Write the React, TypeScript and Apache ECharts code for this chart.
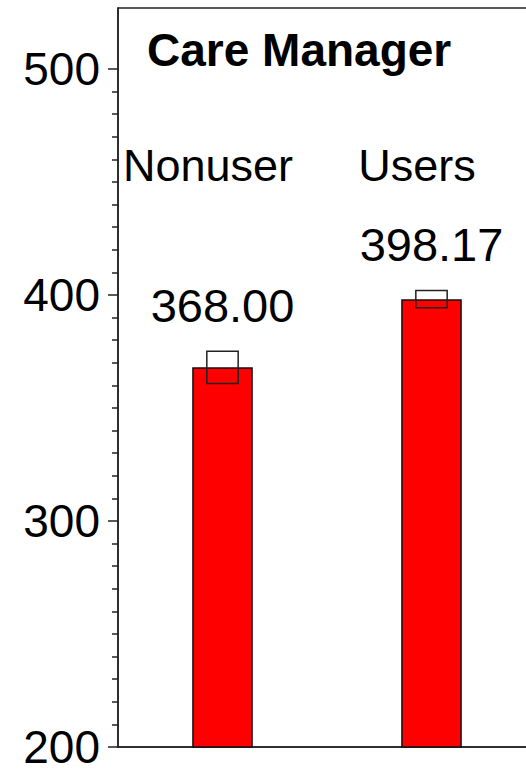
import React, { useEffect, useRef } from "react";
import * as echarts from "echarts";

const title = "Care Manager";
const categories = ["Nonuser", "Users"];
const means = [368.0, 398.17];
const ciLow = [360.9, 394.4];
const ciHigh = [375.1, 402.0];
const majorTicks = [200, 300, 400, 500];
const minorTicks = [
  210, 220, 230, 240, 250, 260, 270, 280, 290,
  310, 320, 330, 340, 350, 360, 370, 380, 390,
  410, 420, 430, 440, 450, 460, 470, 480, 490,
];
const yMin = 200;
const yMax = 527;

const FONT = "'Liberation Sans', Arial, Helvetica, sans-serif";

export default function App() {
  const ref = useRef<HTMLDivElement>(null);
  useEffect(() => {
    if (!ref.current) return;
    const chart = echarts.init(ref.current, null, { renderer: "svg" });
    const errData = categories.map((c, i) => [i, ciLow[i], ciHigh[i], means[i]]);
    chart.setOption({
      animation: false,
      backgroundColor: "#fff",
      title: {
        text: title,
        left: 147,
        top: 27,
        padding: 0,
        textStyle: { fontSize: 46, fontWeight: "bold", color: "#000", fontFamily: FONT },
      },
      grid: {
        left: 118,
        top: 8,
        right: 4,
        bottom: 23,
        show: true,
        borderColor: "#222",
        borderWidth: 1.5,
        containLabel: false,
      },
      xAxis: [
        {
          type: "category",
          data: categories,
          position: "bottom",
          axisLine: { show: true, lineStyle: { color: "#222", width: 1.5 } },
          axisTick: { show: false },
          axisLabel: { show: false },
          splitLine: { show: false },
        },
        {
          type: "category",
          data: categories,
          position: "top",
          offset: -188,
          axisLine: { show: false },
          axisTick: { show: false },
          axisLabel: {
            show: true,
            interval: 0,
            hideOverlap: false,
            fontSize: 45,
            color: "#000",
            fontFamily: FONT,
            margin: 8,
            padding: [0, 29, 0, 0],
          },
          splitLine: { show: false },
        },
      ],
      yAxis: [
        {
          type: "value",
          min: yMin,
          max: yMax,
          interval: 100,
          position: "left",
          axisLine: { show: true, lineStyle: { color: "#222", width: 1.5 } },
          axisTick: {
            show: true,
            length: 10,
            customValues: majorTicks,
            lineStyle: { color: "#222", width: 1.5 },
          },
          axisLabel: {
            show: true,
            customValues: majorTicks,
            fontSize: 46,
            lineHeight: 36,
            color: "#000",
            fontFamily: FONT,
            margin: 18,
          },
          splitLine: { show: false },
        },
        {
          type: "value",
          min: yMin,
          max: yMax,
          interval: 100,
          position: "left",
          axisLine: { show: false },
          axisTick: {
            show: true,
            length: 6,
            customValues: minorTicks,
            lineStyle: { color: "#222", width: 1.5 },
          },
          axisLabel: { show: false },
          splitLine: { show: false },
        },
      ],
      series: [
        {
          type: "bar",
          data: means,
          xAxisIndex: 0,
          yAxisIndex: 0,
          barWidth: "29%",
          itemStyle: { color: "#ff0000", borderColor: "#111", borderWidth: 1.5 },
          z: 2,
        },
        {
          type: "custom",
          xAxisIndex: 0,
          yAxisIndex: 0,
          data: errData,
          z: 3,
          renderItem: (params: any, api: any) => {
            const idx = api.value(0);
            const lo = api.value(1);
            const hi = api.value(2);
            const m = api.value(3);
            const x = api.coord([idx, m])[0];
            const yTop = api.coord([idx, hi])[1];
            const yBot = api.coord([idx, lo])[1];
            const bw = api.size([1, 0])[0] * 0.15;
            return {
              type: "group",
              children: [
                {
                  type: "rect",
                  shape: { x: x - bw / 2, y: yTop, width: bw, height: yBot - yTop },
                  style: { fill: "none", stroke: "#222", lineWidth: 1.5 },
                },
                {
                  type: "text",
                  x: x,
                  y: yTop - 22,
                  style: {
                    text: Number(m).toFixed(2),
                    textAlign: "center",
                    textVerticalAlign: "bottom",
                    fontSize: 47,
                    fontFamily: FONT,
                    fill: "#000",
                  },
                },
              ],
            };
          },
        },
      ],
    });
    return () => chart.dispose();
  }, []);
  return (
    <div
      style={{
        position: "absolute",
        left: 0,
        top: 0,
        width: 526,
        height: 770,
        overflow: "hidden",
      }}
    >
      <div ref={ref} style={{ width: 540, height: 770 }} />
    </div>
  );
}
